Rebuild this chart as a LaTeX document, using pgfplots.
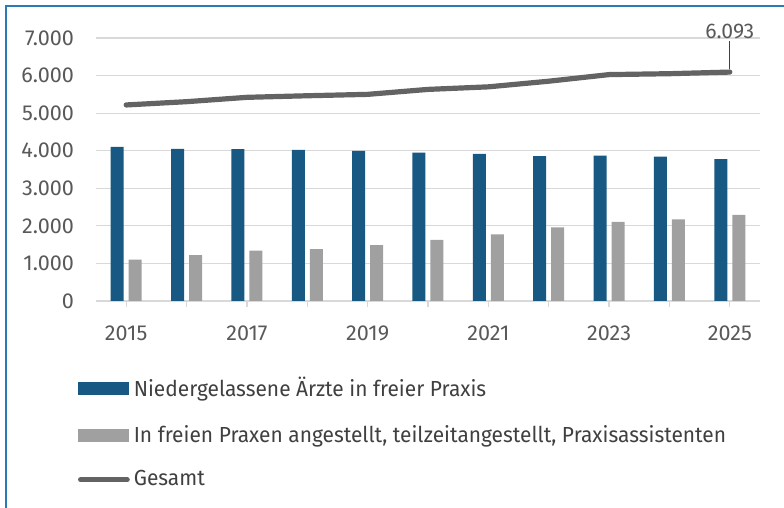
\documentclass[border=0pt]{standalone}
\usepackage{fontspec}
\setmainfont{Fira Sans}
\newfontfamily\tickfont{Fira Sans}
\newfontfamily\legfont[FakeStretch=0.96]{Fira Sans}
\usepackage{pgfplots}
\pgfplotsset{compat=1.18}

\definecolor{frameblue}{RGB}{40,123,180}
\definecolor{barblue}{RGB}{23,89,131}
\definecolor{bargray}{RGB}{160,160,160}
\definecolor{linegray}{RGB}{99,99,99}
\definecolor{gridgray}{RGB}{217,217,217}
\definecolor{txtgray}{RGB}{89,89,89}
\definecolor{legtext}{RGB}{64,64,64}

\begin{document}
\begin{tikzpicture}
% canvas: 784x508 px at 0.5pt per px, plot area origin at px (96,301)
\path[use as bounding box] (-48pt,-103.5pt) rectangle (344pt,150.5pt);
\draw[frameblue, line width=1.2pt] (-45pt,-103.5pt) -- (-45pt,147.5pt) -- (344pt,147.5pt);

\begin{axis}[
  scale only axis,
  width=332pt, height=131.5pt,
  xmin=-0.5, xmax=10.5,
  ymin=0, ymax=7000,
  clip=false,
  axis lines*=left,
  x axis line style={draw=gridgray, line width=0.6pt},
  y axis line style={draw=none},
  ytick={0,1000,...,7000},
  ymajorgrids,
  grid style={draw=gridgray, line width=0.6pt},
  ytick style={draw=none},
  xtick={0,...,10},
  xticklabels={2015,,2017,,2019,,2021,,2023,,2025},
  xtick style={draw=gridgray, line width=0.6pt},
  tick align=outside,
  major tick length=3pt,
  scaled y ticks=false,
  /pgf/number format/.cd, 1000 sep={.}, assume math mode=true,
  /pgfplots/.cd,
  yticklabel style={font=\tickfont\fontsize{10.8}{12}\selectfont, text=txtgray, xshift=-4.5pt},
  xticklabel style={font=\tickfont\fontsize{10.8}{12}\selectfont, text=txtgray, yshift=-6pt},
  legend style={
    draw=none, fill=none, inner sep=0pt, outer sep=0pt,
    at={(-0.0271,-0.275)}, anchor=north west,
    font=\legfont\fontsize{10.9}{12.5}\selectfont, text=legtext,
    row sep=8.7pt,
  },
  legend cell align=left,
]
\addplot[ybar, bar width=6.5pt, bar shift=-4.5pt, fill=barblue, draw=none,
  legend image code/.code={\fill[barblue] (0pt,-3.25pt) rectangle (25.5pt,3.25pt);}]
  coordinates {
  (0,4102) (1,4049) (2,4040) (3,4022) (4,3995) (5,3952)
  (6,3916) (7,3854) (8,3872) (9,3845) (10,3774)
};
\addlegendentry{Niedergelassene Ärzte in freier Praxis}

\addplot[ybar, bar width=6.5pt, bar shift=4.5pt, fill=bargray, draw=none,
  legend image code/.code={\fill[bargray] (0pt,-3.25pt) rectangle (25.5pt,3.25pt);}]
  coordinates {
  (0,1099) (1,1223) (2,1338) (3,1382) (4,1489) (5,1630)
  (6,1773) (7,1959) (8,2108) (9,2171) (10,2294)
};
\addlegendentry{In freien Praxen angestellt, teilzeitangestellt, Praxisassistenten}

\addplot[linegray, line width=2.6pt, line cap=round, line join=round, mark=none,
  legend image code/.code={\draw[linegray, line width=2.6pt, line cap=round] (1.2pt,0pt) -- (24.5pt,0pt);}]
  coordinates {
  (0,5218) (1,5305) (2,5421) (3,5463) (4,5500) (5,5632)
  (6,5700) (7,5850) (8,6026) (9,6050) (10,6093)
};
\addlegendentry{Gesamt}

% leader and value label for the last point
\addplot[forget plot, draw=black!75, line width=0.6pt] coordinates {(10,6170) (10,6910)};
\addplot[forget plot, draw=none, mark=none, nodes near coords={6.093},
  nodes near coords style={anchor=south, inner sep=1pt, font=\tickfont\fontsize{10.6}{12}\selectfont, text=txtgray}]
  coordinates {(10,6910)};
\end{axis}
\end{tikzpicture}
\end{document}
